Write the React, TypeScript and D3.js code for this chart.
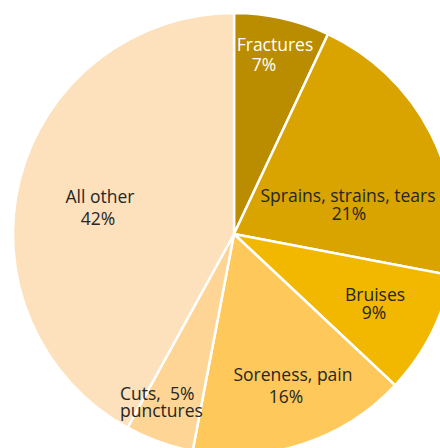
import React, { useEffect, useRef } from 'react';
import * as d3 from 'd3';

// Injury types share (%)
const categories = ['Fractures', 'Sprains, strains, tears', 'Bruises', 'Soreness, pain', 'Cuts, punctures', 'All other'];
const values = [7, 21, 9, 16, 5, 42];
const colors = ['#BA8C00', '#D9A300', '#F2B800', '#FEC85A', '#FED595', '#FDE0BC'];

// label lines + placement relative to pie centre (Excel-style manual placement)
const labelLines = [
  ['Fractures', '7%'],
  ['Sprains, strains, tears', '21%'],
  ['Bruises', '9%'],
  ['Soreness, pain', '16%'],
  ['Cuts,  5%', 'punctures'],
  ['All other', '42%'],
];
const labelPos = [
  [[41, -183, 'middle'], [30, -163, 'middle']],
  [[114, -32, 'middle'], [115, -14, 'middle']],
  [[141, 67, 'middle'], [140, 85, 'middle']],
  [[59, 147, 'middle'], [52, 169, 'middle']],
  [[-114, 166, 'start'], [-114, 183, 'start']],
  [[-134, -31, 'middle'], [-136, -9, 'middle']],
];
const labelColor = ['#ffffff', '#262626', '#262626', '#262626', '#262626', '#262626'];

export default function App() {
  const ref = useRef<SVGSVGElement>(null);

  useEffect(() => {
    const width = 440;
    const height = 448;
    const cx = 234;
    const cy = 234;
    const radius = 221;

    const svg = d3.select(ref.current);
    svg.selectAll('*').remove();

    const pie = d3.pie<number>().sort(null).value(d => d);
    const arcs = pie(values);
    const arc = d3.arc<d3.PieArcDatum<number>>().innerRadius(0).outerRadius(radius);

    const g = svg.append('g').attr('transform', `translate(${cx},${cy})`);

    g.selectAll('path')
      .data(arcs)
      .enter()
      .append('path')
      .attr('d', arc)
      .attr('fill', (_, i) => colors[i])
      .attr('stroke', '#ffffff')
      .attr('stroke-width', 2.5)
      .append('title')
      .text((d, i) => `${categories[i]}: ${d.data}%`);

    labelLines.forEach((lines, i) => {
      lines.forEach((line, j) => {
        const [x, y, anchor] = labelPos[i][j] as [number, number, string];
        g.append('text')
          .attr('x', x)
          .attr('y', y)
          .attr('text-anchor', anchor)
          .attr('fill', labelColor[i])
          .attr('font-size', 17.5)
          .style('font-family', "'Open Sans', sans-serif")
          .style('white-space', 'pre')
          .text(line);
      });
    });

    svg.attr('width', width).attr('height', height);
  }, []);

  return (
    <svg
      ref={ref}
      width={440}
      height={448}
      viewBox="0 0 440 448"
      style={{ position: 'absolute', left: 0, top: 0, background: '#fff' }}
    />
  );
}
